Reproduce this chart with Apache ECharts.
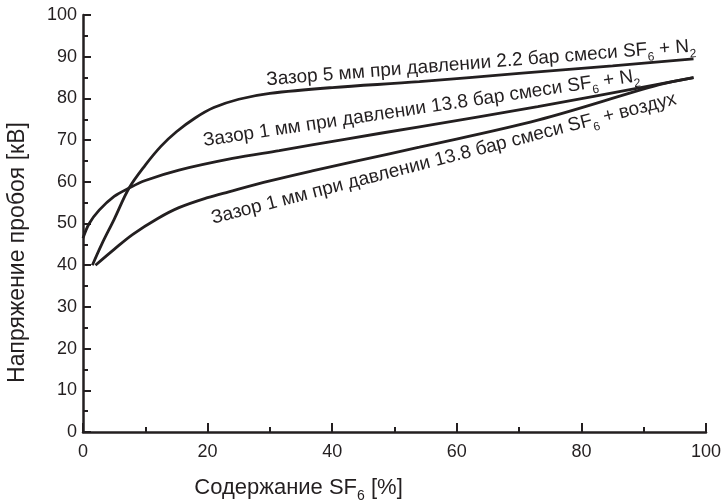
<!DOCTYPE html>
<html>
<head>
<meta charset="utf-8">
<script src="https://cdn.jsdelivr.net/npm/echarts@6/dist/echarts.min.js"></script>
<style>
  html, body { margin: 0; padding: 0; background: #fff; }
  #chart { width: 724px; height: 503px; }
</style>
</head>
<body>
<div id="chart"></div>
<script>
// SF6 content, % / breakdown voltage, kV
var gap5N2 = [
  [1.5, 40], [3, 45], [5, 51], [7.4, 58.5], [10, 64], [12.5, 68.5], [15, 72],
  [18, 75.3], [21, 77.8], [25, 79.8], [30, 81.2], [40, 82.6], [54, 84],
  [70, 86], [85, 87.8], [98, 89.5]
];
var gap1N2 = [
  [0, 46.5], [1, 50], [2.6, 53.2], [5, 56.5], [7.4, 58.5], [10, 60.3],
  [15.4, 62.8], [24, 65.6], [31.5, 67.5], [42, 70.2], [54, 73.2], [73, 78],
  [91, 83], [98, 85]
];
var gap1Air = [
  [2, 40], [5, 43.8], [8, 47.4], [12, 51.2], [15.4, 53.8], [20, 56.2],
  [23.4, 57.6], [30, 60.2], [36.8, 62.6], [44, 65], [54, 68.3], [73, 74.8],
  [92.5, 83.3], [98, 85]
];

// curve captions: start point [x, y] in data units and slope angle in degrees
var captions = [
  { text: 'Зазор 5 мм при давлении 2.2 бар смеси SF{sub|6} + N{sub|2}', at: [29.6, 81.2], angle: 4.5 },
  { text: 'Зазор 1 мм при давлении 13.8 бар смеси SF{sub|6} + N{sub|2}', at: [19.6, 66.6], angle: 8.5 },
  { text: 'Зазор 1 мм при давлении 13.8 бар смеси SF{sub|6} + воздух', at: [21.2, 48.0], angle: 14.5 }
];

var ink = '#231f20';
var font = 'Liberation Sans, Arial, sans-serif';

var chart = echarts.init(document.getElementById('chart'));

function lineSeries(name, data) {
  return {
    name: name,
    type: 'line',
    data: data,
    smooth: 0.35,
    symbol: 'none',
    lineStyle: { color: ink, width: 2.8 },
    silent: true
  };
}

chart.setOption({
  animation: false,
  backgroundColor: '#fff',
  grid: { left: 83, right: 18, top: 15, bottom: 71, outerBoundsMode: 'none' },
  xAxis: {
    type: 'value',
    min: 0,
    max: 100,
    interval: 20,
    name: 'Содержание SF{sub|6} [%]',
    nameLocation: 'middle',
    nameGap: 41,
    nameTextStyle: {
      fontSize: 22, fontFamily: font, color: ink,
      padding: [0, 192, 0, 0],
      rich: {
        sub: { fontSize: 14, fontFamily: font, color: ink, verticalAlign: 'bottom', lineHeight: 30 }
      }
    },
    axisLine: { lineStyle: { color: ink, width: 2.5 } },
    axisTick: { inside: true, length: 9, lineStyle: { color: ink, width: 2 } },
    minorTick: { show: true, splitNumber: 2, length: 5, lineStyle: { color: ink, width: 2 } },
    axisLabel: { fontSize: 18, fontFamily: font, color: ink, margin: 11 },
    splitLine: { show: false }
  },
  yAxis: {
    type: 'value',
    min: 0,
    max: 100,
    interval: 10,
    name: 'Напряжение пробоя [кВ]',
    nameLocation: 'middle',
    nameGap: 54,
    nameTextStyle: {
      fontSize: 23, fontFamily: font, color: ink,
      padding: [0, 58, 0, 0]
    },
    axisLine: { lineStyle: { color: ink, width: 2.5 } },
    axisTick: { inside: true, length: 8, lineStyle: { color: ink, width: 2 } },
    minorTick: { show: true, splitNumber: 2, length: 5, lineStyle: { color: ink, width: 2 } },
    axisLabel: { fontSize: 18, fontFamily: font, color: ink, margin: 6 },
    splitLine: { show: false }
  },
  series: [
    lineSeries('5 мм, 2.2 бар, SF6 + N2', gap5N2),
    lineSeries('1 мм, 13.8 бар, SF6 + N2', gap1N2),
    lineSeries('1 мм, 13.8 бар, SF6 + воздух', gap1Air)
  ]
});

// place captions along the curves, converting data units to pixels
var graphics = captions.map(function (c) {
  var p = chart.convertToPixel({ gridIndex: 0 }, c.at);
  return {
    type: 'text',
    x: p[0],
    y: p[1],
    rotation: c.angle * Math.PI / 180,
    silent: true,
    style: {
      text: c.text,
      fontSize: 19,
      fontFamily: font,
      fill: ink,
      align: 'left',
      verticalAlign: 'bottom',
      rich: {
        sub: { fontSize: 12, fontFamily: font, fill: ink, verticalAlign: 'bottom', lineHeight: 27 }
      }
    }
  };
});
chart.setOption({ graphic: graphics });
</script>
</body>
</html>
